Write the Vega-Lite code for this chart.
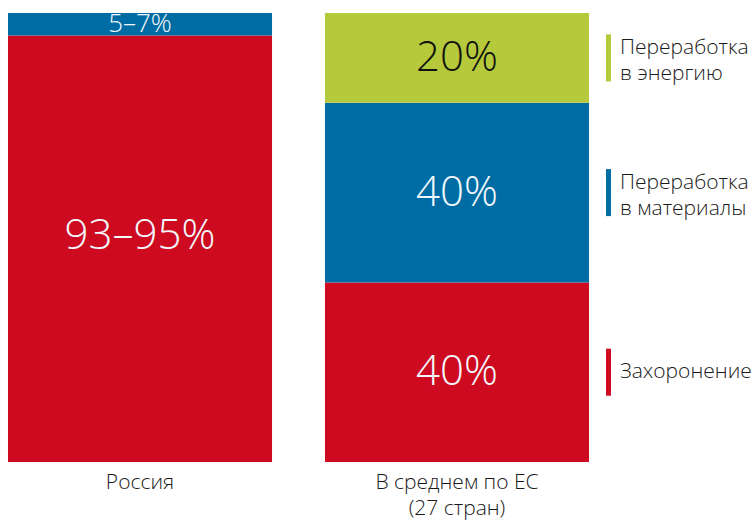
{
  "$schema": "https://vega.github.io/schema/vega-lite/v6.json",
  "width": 597,
  "height": 449,
  "autosize": "none",
  "padding": {"left": 0, "top": 13, "right": 158, "bottom": 59},
  "background": "white",
  "config": {"view": {"stroke": null}, "font": "Open Sans"},
  "data": {
    "values": [
      {"country": "Россия", "cat": "Захоронение", "value": 95, "label": "93–95%", "ord": 1, "lines": 1},
      {"country": "Россия", "cat": "Переработка в материалы", "value": 5, "label": "5–7%", "ord": 2, "lines": 1},
      {"country": "В среднем по ЕС", "cat": "Захоронение", "value": 40, "label": "40%", "ord": 1, "legend": "Захоронение", "lines": 1},
      {"country": "В среднем по ЕС", "cat": "Переработка в материалы", "value": 40, "label": "40%", "ord": 2, "legend": "Переработка\nв материалы", "lines": 2},
      {"country": "В среднем по ЕС", "cat": "Переработка в энергию", "value": 20, "label": "20%", "ord": 3, "legend": "Переработка\nв энергию", "lines": 2}
    ]
  },
  "transform": [
    {"stack": "value", "groupby": ["country"], "sort": [{"field": "ord", "order": "ascending"}], "as": ["v0", "v1"]},
    {"calculate": "(datum.v0 + datum.v1) / 2", "as": "mid"}
  ],
  "layer": [
    {
      "mark": {"type": "bar"},
      "encoding": {
        "x": {
          "field": "country", "type": "nominal", "sort": ["Россия", "В среднем по ЕС"],
          "scale": {"paddingInner": 0.167, "paddingOuter": 0.0252},
          "axis": {
            "title": null, "ticks": false, "domain": false, "labelAngle": 0,
            "labelFontSize": 21, "labelFont": "Open Sans", "labelFontWeight": 300, "labelColor": "#1a1a1a",
            "labelPadding": 9, "labelLineHeight": 26,
            "labelExpr": "datum.value == 'В среднем по ЕС' ? ['В среднем по ЕС', '(27 стран)'] : datum.value"
          }
        },
        "y": {"field": "v0", "type": "quantitative", "scale": {"domain": [0, 100]}, "axis": null},
        "y2": {"field": "v1"},
        "color": {
          "field": "cat", "type": "nominal", "legend": null,
          "scale": {
            "domain": ["Захоронение", "Переработка в материалы", "Переработка в энергию"],
            "range": ["#CE0A20", "#006CA4", "#B5C93B"]
          }
        }
      }
    },
    {
      "transform": [{"filter": "!(datum.country == 'Россия' && datum.ord == 1)"}],
      "mark": {"type": "text", "font": "Open Sans", "fontWeight": 300, "baseline": "middle", "align": "center"},
      "encoding": {
        "x": {"field": "country", "type": "nominal", "sort": ["Россия", "В среднем по ЕС"]},
        "y": {"field": "mid", "type": "quantitative"},
        "text": {"field": "label"},
        "size": {"condition": {"test": "datum.value < 10", "value": 26}, "value": 42},
        "color": {"condition": {"test": "datum.cat == 'Переработка в энергию'", "value": "#111111"}, "value": "#f2f8fc"}
      }
    },
    {
      "transform": [{"filter": "datum.country == 'Россия' && datum.ord == 1"}],
      "mark": {"type": "text", "font": "Open Sans", "fontWeight": 300, "baseline": "middle", "align": "center", "fontSize": 42, "dy": -13, "color": "#f2f8fc"},
      "encoding": {
        "x": {"field": "country", "type": "nominal", "sort": ["Россия", "В среднем по ЕС"]},
        "y": {"field": "mid", "type": "quantitative"},
        "text": {"field": "label"}
      }
    },
    {
      "transform": [{"filter": "datum.country == 'В среднем по ЕС'"}],
      "mark": {"type": "tick", "orient": "vertical", "thickness": 5, "size": 47, "xOffset": 151.5, "opacity": 1},
      "encoding": {
        "x": {"field": "country", "type": "nominal", "sort": ["Россия", "В среднем по ЕС"]},
        "y": {"field": "mid", "type": "quantitative"},
        "color": {"field": "cat", "type": "nominal", "legend": null}
      }
    },
    {
      "transform": [{"filter": "datum.country == 'В среднем по ЕС' && datum.lines == 2"}],
      "mark": {"type": "text", "font": "Open Sans", "fontWeight": 300, "fontSize": 21, "align": "left", "baseline": "middle", "lineBreak": "\n", "lineHeight": 26, "xOffset": 163, "dy": -10, "color": "#1a1a1a"},
      "encoding": {
        "x": {"field": "country", "type": "nominal", "sort": ["Россия", "В среднем по ЕС"]},
        "y": {"field": "mid", "type": "quantitative"},
        "text": {"field": "legend"}
      }
    },
    {
      "transform": [{"filter": "datum.country == 'В среднем по ЕС' && datum.lines == 1"}],
      "mark": {"type": "text", "font": "Open Sans", "fontWeight": 300, "fontSize": 21, "align": "left", "baseline": "middle", "xOffset": 163, "color": "#1a1a1a"},
      "encoding": {
        "x": {"field": "country", "type": "nominal", "sort": ["Россия", "В среднем по ЕС"]},
        "y": {"field": "mid", "type": "quantitative"},
        "text": {"field": "legend"}
      }
    }
  ]
}
